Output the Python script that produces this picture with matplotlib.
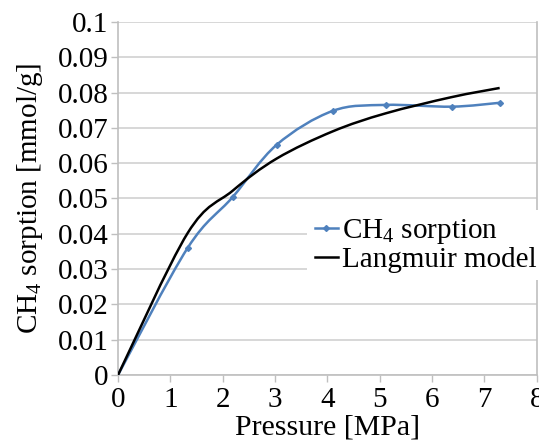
import matplotlib
matplotlib.use("Agg")
import matplotlib.pyplot as plt
from matplotlib.path import Path
from matplotlib.patches import PathPatch
from matplotlib.lines import Line2D
import numpy as np

plt.rcParams['font.family'] = ['Liberation Serif', 'DejaVu Serif']
plt.rcParams['mathtext.fontset'] = 'custom'
plt.rcParams['mathtext.rm'] = 'Liberation Serif'
plt.rcParams['mathtext.it'] = 'Liberation Serif:italic'

pressure = [0, 1.33, 2.19, 3.03, 4.10, 5.11, 6.37, 7.29]
sorption = [0, 0.0360, 0.0504, 0.0652, 0.0748, 0.0765, 0.0760, 0.0771]

lang_p = [0, 1.33, 2.19, 3.03, 4.10, 5.11, 6.37, 7.29]
lang_q = [0, 0.0402, 0.0522, 0.0613, 0.0690, 0.0741, 0.0787, 0.0813]

xticks = [0, 1, 2, 3, 4, 5, 6, 7, 8]
yticks = [0, 0.01, 0.02, 0.03, 0.04, 0.05, 0.06, 0.07, 0.08, 0.09, 0.1]
ytick_labels = ['0', '0.01', '0.02', '0.03', '0.04', '0.05', '0.06', '0.07', '0.08', '0.09', '0.1']

BLUE = '#4f81bd'
GRID = '#d4d4d4'
FS = 21


def smooth_path(xs, ys):
    pts = np.column_stack([xs, ys]).astype(float)
    n = len(pts)
    verts = [tuple(pts[0])]
    codes = [Path.MOVETO]
    for i in range(n - 1):
        p0 = pts[i - 1] if i > 0 else pts[i]
        p1 = pts[i]
        p2 = pts[i + 1]
        p3 = pts[i + 2] if i + 2 < n else pts[i + 1]
        c1 = p1 + (p2 - p0) / 6.0
        c2 = p2 - (p3 - p1) / 6.0
        verts += [tuple(c1), tuple(c2), tuple(p2)]
        codes += [Path.CURVE4] * 3
    return Path(verts, codes)


fig = plt.figure(figsize=(5.39, 4.48), dpi=100)
ax = fig.add_axes([0.219, 0.163, 0.777, 0.788])

ax.add_patch(PathPatch(smooth_path(pressure, sorption), facecolor='none',
                       edgecolor=BLUE, lw=1.8, zorder=3))
ax.plot(pressure[1:], sorption[1:], linestyle='none', marker='D', markersize=3,
        color=BLUE, zorder=4)
ax.add_patch(PathPatch(smooth_path(lang_p, lang_q), facecolor='none',
                       edgecolor='black', lw=1.8, zorder=3))

ax.set_xlim(0, 8)
ax.set_ylim(0, 0.1)
ax.set_xticks(xticks)
ax.set_xticklabels([str(t) for t in xticks])
ax.set_yticks(yticks)
ax.set_yticklabels(ytick_labels)
ax.grid(axis='y', color=GRID, lw=1.3)
ax.set_axisbelow(True)
for s in ['left', 'bottom', 'right']:
    ax.spines[s].set_color('#bfbfbf')
    ax.spines[s].set_linewidth(1.2)
ax.spines['top'].set_visible(False)
ax.tick_params(axis='both', colors='#bfbfbf', length=5, width=1.0,
               labelsize=FS, labelcolor='black', pad=2)
ax.tick_params(axis='x', pad=4)

ax.set_xlabel('Pressure [MPa]', fontsize=21.5, labelpad=1)
ax.set_ylabel('CH$_4$ sorption [mmol/g]', fontsize=21, labelpad=9)

handles = [Line2D([], [], color=BLUE, lw=1.8, marker='D', markersize=3),
           Line2D([], [], color='black', lw=1.8)]
leg = ax.legend(handles, ['CH$_4$ sorption', 'Langmuir model'],
                loc='center left', bbox_to_anchor=(0.452, 0.368),
                fontsize=FS, frameon=True, fancybox=False, framealpha=1,
                edgecolor='none', handlelength=0.8, handletextpad=0.15,
                labelspacing=0.0, borderpad=0.25, borderaxespad=0)
leg.set_zorder(5)

fig.savefig('out.png', dpi=100)
